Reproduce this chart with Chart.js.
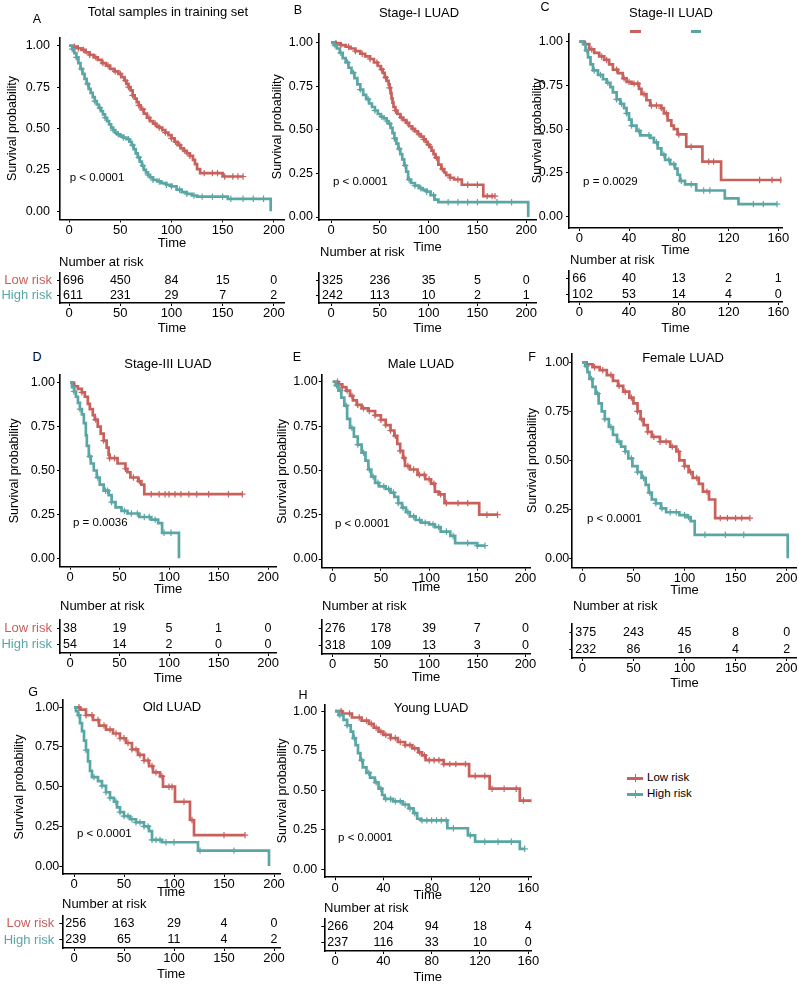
<!DOCTYPE html>
<html>
<head>
<meta charset="utf-8">
<script src="https://cdn.jsdelivr.net/npm/chart.js@4.4.1/dist/chart.umd.min.js"></script>
<style>
body{margin:0;background:#fff;}
#fig{position:relative;width:799px;height:985px;overflow:hidden;background:#fff;font-family:"Liberation Sans",Arial,sans-serif;color:#000;}
#fig canvas{position:absolute;}
.c{position:absolute;white-space:nowrap;transform:translate(-50%,-50%);line-height:1;}
.l{position:absolute;white-space:nowrap;transform:translateY(-50%);line-height:1;}
.bar{position:absolute;}
</style>
</head>
<body>
<div id="fig"></div>
<script>
const RED = '#C8605C';
const TEAL = '#5AA6A5';

// axis breaks
const breaks200 = [0, 50, 100, 150, 200];
const breaks160 = [0, 40, 80, 120, 160];
const survTicks = [0, 0.25, 0.5, 0.75, 1];

// A - total samples in training set
const aLowT = [0,4,8,12,16,20,24,28,32,36,40,44,48,51,54,56,58,60,62,64,66,68,70,73,76,79,82,85,88,91,94,97,100,103,106,109,112,115,118,121,123,125,128,150];
const aLowS = [1,0.995,0.985,0.975,0.96,0.945,0.93,0.915,0.895,0.88,0.86,0.845,0.83,0.81,0.79,0.77,0.75,0.73,0.70,0.68,0.66,0.64,0.615,0.59,0.565,0.545,0.53,0.515,0.505,0.49,0.475,0.46,0.44,0.42,0.40,0.38,0.365,0.35,0.335,0.31,0.285,0.255,0.23,0.21];
const aLowCens = [5,9,14,20,26,33,38,45,50,55,58,62,68,72,78,84,88,94,100,104,108,113,118,132,140,145,152,160,165,170];
const aHighT = [0,3,5,7,9,11,13,15,17,19,21,23,25,27,29,31,33,35,37,39,41,43,45,47,50,53,56,59,61,63,65,67,69,71,73,75,77,79,82,86,90,95,100,105,110,115,120,125,155,197];
const aHighS = [1,0.98,0.955,0.93,0.895,0.86,0.83,0.80,0.77,0.74,0.715,0.69,0.665,0.645,0.625,0.605,0.585,0.565,0.545,0.525,0.505,0.49,0.475,0.465,0.455,0.445,0.435,0.42,0.40,0.375,0.35,0.325,0.30,0.275,0.25,0.235,0.22,0.205,0.19,0.18,0.17,0.16,0.15,0.13,0.115,0.105,0.095,0.088,0.075,0];
const aHighCens = [3,7,12,18,25,30,35,43,48,53,58,62,68,72,77,82,88,95,100,108,115,122,130,140,150,158,170,180,190];
const aRiskLow = [696, 450, 84, 15, 0];
const aRiskHigh = [611, 231, 29, 7, 2];

// B - Stage-I
const bLowT = [0,5,10,15,20,25,30,35,40,44,48,51,53,55,57,59,60,61,62,63,64,66,68,71,74,77,80,83,86,89,92,95,97,99,101,103,105,107,110,113,116,118,122,126,134,156];
const bLowS = [1,0.995,0.985,0.975,0.965,0.95,0.935,0.92,0.905,0.885,0.865,0.845,0.825,0.80,0.78,0.76,0.74,0.71,0.68,0.655,0.63,0.61,0.59,0.57,0.555,0.54,0.52,0.505,0.49,0.475,0.46,0.445,0.43,0.415,0.40,0.38,0.36,0.34,0.30,0.275,0.255,0.24,0.225,0.215,0.185,0.12];
const bLowCens = [5,10,18,25,32,40,47,52,56,60,66,72,78,84,90,95,100,108,114,122,130,140,150,160,165,168];
const bHighT = [0,3,6,9,12,15,18,21,24,27,30,33,36,39,42,45,48,51,54,57,59,61,63,65,67,69,71,73,75,77,79,82,86,90,94,98,102,106,110,202];
const bHighS = [1,0.985,0.965,0.94,0.91,0.885,0.855,0.825,0.795,0.76,0.73,0.70,0.675,0.65,0.63,0.61,0.59,0.575,0.565,0.55,0.535,0.51,0.48,0.45,0.42,0.39,0.36,0.33,0.295,0.26,0.215,0.195,0.18,0.165,0.155,0.145,0.125,0.10,0.085,0];
const bHighCens = [4,10,17,23,30,38,45,52,57,60,65,70,76,80,86,92,98,105,120,130,140,150,170,185];
const bRiskLow = [325, 236, 35, 5, 0];
const bRiskHigh = [242, 113, 10, 2, 1];

// C - Stage-II
const cLowT = [0,4,8,12,16,20,24,27,31,35,38,42,48,50,54,57,66,68,71,74,76,79,86,99,114];
const cLowS = [1,0.985,0.955,0.935,0.915,0.895,0.87,0.84,0.82,0.79,0.77,0.76,0.73,0.70,0.665,0.635,0.62,0.59,0.55,0.52,0.50,0.47,0.40,0.315,0.21];
const cLowCens = [5,10,18,22,30,36,40,44,47,52,58,62,66,70,80,90,104,108,145,155,162];
const cHighT = [0,3,5,7,9,11,15,19,22,25,27,30,33,36,38,40,42,46,49,57,60,63,66,69,73,77,79,81,85,94,117,128];
const cHighS = [1,0.985,0.95,0.91,0.87,0.835,0.81,0.785,0.765,0.74,0.71,0.67,0.645,0.62,0.59,0.555,0.52,0.49,0.465,0.45,0.425,0.39,0.355,0.325,0.30,0.275,0.24,0.205,0.185,0.15,0.105,0.072];
const cHighCens = [6,12,17,23,30,34,38,42,48,56,62,68,72,76,82,90,100,105,140,148,159];
const cRiskLow = [66, 40, 13, 2, 1];
const cRiskHigh = [102, 53, 14, 4, 0];

// D - Stage-III
const dLowT = [0,4,8,12,15,18,20,23,25,28,31,34,37,39,40,48,56,58,61,69,72,75];
const dLowS = [1,0.98,0.965,0.945,0.92,0.88,0.85,0.815,0.79,0.75,0.71,0.67,0.63,0.59,0.57,0.54,0.51,0.49,0.46,0.44,0.42,0.365];
const dLowCens = [5,12,26,34,40,45,56,64,70,82,90,96,100,106,112,120,128,140,160,174];
const dHighT = [0,2,4,6,8,10,12,14,16,17,19,21,24,27,30,34,39,42,46,52,58,70,82,89,93,110];
const dHighS = [1,0.975,0.95,0.92,0.885,0.85,0.82,0.77,0.70,0.64,0.58,0.54,0.50,0.46,0.42,0.385,0.36,0.32,0.29,0.27,0.255,0.235,0.22,0.20,0.145,0];
const dHighCens = [4,10,20,28,36,38,42,55,62,68,75,80,86,95,102];
const dRiskLow = [38, 19, 5, 1, 0];
const dRiskHigh = [54, 14, 2, 0, 0];

// E - Male
const eLowT = [0,6,10,14,18,21,25,30,37,44,50,55,60,64,67,70,73,75,80,88,96,102,106,110,116,152];
const eLowS = [1,0.985,0.97,0.95,0.92,0.895,0.87,0.85,0.835,0.81,0.785,0.755,0.725,0.695,0.65,0.61,0.57,0.525,0.505,0.475,0.45,0.425,0.38,0.365,0.315,0.25];
const eLowCens = [5,10,15,20,26,32,38,44,50,55,60,65,70,74,78,84,90,95,100,105,112,118,130,140,160,171];
const eHighT = [0,3,6,9,12,15,18,22,26,30,34,37,40,44,48,55,60,64,68,72,76,80,86,92,100,106,112,122,127,150];
const eHighS = [1,0.98,0.95,0.91,0.865,0.79,0.74,0.69,0.645,0.60,0.555,0.505,0.465,0.43,0.41,0.395,0.375,0.35,0.315,0.29,0.265,0.24,0.22,0.205,0.195,0.18,0.155,0.13,0.09,0.075];
const eHighCens = [4,8,14,20,26,32,38,42,47,53,58,63,68,73,78,84,90,96,104,110,118,125,140,150,158];
const eRiskLow = [276, 178, 39, 7, 0];
const eRiskHigh = [318, 109, 13, 3, 0];

// F - Female
const fLowT = [0,4,10,17,24,30,35,40,46,50,54,57,60,64,68,76,86,92,95,100,104,108,114,118,124,130];
const fLowS = [1,0.99,0.975,0.96,0.935,0.905,0.88,0.85,0.82,0.79,0.75,0.71,0.68,0.645,0.62,0.595,0.57,0.545,0.50,0.47,0.44,0.41,0.38,0.34,0.30,0.205];
const fLowCens = [5,12,20,28,36,42,48,54,58,64,70,76,82,88,94,100,106,112,122,135,142,150,156,164];
const fHighT = [0,3,5,7,10,13,16,19,22,26,30,34,38,42,45,49,54,58,62,65,68,72,77,82,95,102,106,110,201];
const fHighS = [1,0.98,0.95,0.915,0.875,0.84,0.79,0.75,0.71,0.67,0.63,0.595,0.57,0.545,0.51,0.47,0.44,0.41,0.375,0.335,0.30,0.28,0.255,0.235,0.22,0.21,0.19,0.12,0];
const fHighCens = [4,9,15,22,28,36,42,48,54,60,66,72,78,86,92,100,104,120,140,158];
const fRiskLow = [375, 243, 45, 8, 0];
const fRiskHigh = [232, 86, 16, 4, 2];

// G - Old
const gLowT = [0,6,12,19,25,32,39,46,52,58,64,70,75,79,86,89,101,116,120];
const gLowS = [1,0.985,0.95,0.92,0.885,0.86,0.835,0.805,0.775,0.735,0.70,0.665,0.63,0.59,0.565,0.50,0.405,0.29,0.195];
const gLowCens = [5,12,18,24,30,36,42,46,50,54,58,62,66,70,74,78,82,88,95,98,110,118,150,171];
const gHighT = [0,2,4,6,8,10,12,14,16,18,24,28,32,36,40,43,46,50,56,62,70,75,78,88,124,195];
const gHighS = [1,0.975,0.95,0.90,0.85,0.79,0.73,0.66,0.60,0.56,0.535,0.505,0.465,0.43,0.405,0.37,0.34,0.315,0.295,0.275,0.25,0.22,0.165,0.15,0.097,0];
const gHighCens = [5,12,20,28,32,36,42,46,50,54,58,62,66,70,74,78,82,86,92,100,126,160];
const gRiskLow = [256, 163, 29, 4, 0];
const gRiskHigh = [239, 65, 11, 4, 2];

// H - Young
const hLowT = [0,6,14,22,28,32,36,40,46,52,58,64,69,72,75,90,111,128,153];
const hLowS = [1,0.985,0.96,0.94,0.92,0.895,0.87,0.85,0.83,0.805,0.785,0.765,0.74,0.72,0.69,0.665,0.59,0.51,0.435];
const hLowCens = [5,12,20,26,30,34,38,42,46,50,54,58,62,66,70,74,78,82,86,90,95,100,108,116,124,130,140,150,156,163];
const hHighT = [0,3,7,10,13,15,17,19,21,23,26,29,33,36,39,41,48,56,61,65,68,71,93,110,116,153];
const hHighS = [1,0.975,0.945,0.91,0.87,0.83,0.785,0.735,0.69,0.645,0.61,0.58,0.55,0.51,0.47,0.445,0.43,0.41,0.385,0.355,0.32,0.31,0.26,0.215,0.175,0.13];
const hHighCens = [4,10,16,22,28,34,38,42,46,50,54,58,62,66,72,76,80,84,88,92,98,112,124,135,146,157];
const hRiskLow = [266, 204, 94, 18, 4];
const hRiskHigh = [237, 116, 33, 10, 0];

const FONT = "'Liberation Sans', Arial, sans-serif";
Chart.defaults.font.family = FONT;
Chart.defaults.color = '#000';
Chart.defaults.animation = false;

const fig = document.getElementById('fig');

// layout of each panel (page pixels)
const panels = [
  {letter:'A', lp:[37,19], title:'Total samples in training set', tp:[168,11], pval:'p < 0.0001', pvX:0.5, breaks:breaks200,
   plot:{L:60,T:33.5,R:284,B:219.5,yTitle:13,timeY:243,x:[-9,210],y:[-0.05,1.05],pad:7},
   table:{L:60,T:270,R:284,B:303,timeY:328,labels:true}, nar:[59,261],
   low:[aLowT,aLowS,aLowCens], high:[aHighT,aHighS,aHighCens], risk:[aRiskLow,aRiskHigh]},
  {letter:'B', lp:[298,10], title:'Stage-I LUAD', tp:[419,12], pval:'p < 0.0001', pvX:2, breaks:breaks200,
   plot:{L:319,T:33,R:536,B:220,yTitle:278,timeY:247,x:[-12.3,210],y:[-0.017,1.051],pad:3},
   table:{L:319,T:270,R:536,B:303,timeY:328,labels:false}, nar:[320,251],
   low:[bLowT,bLowS,bLowCens], high:[bHighT,bHighS,bHighCens], risk:[bRiskLow,bRiskHigh]},
  {letter:'C', lp:[545,7], title:'Stage-II LUAD', tp:[671,12], pval:'p = 0.0029', pvX:3, breaks:breaks160,
   plot:{L:569,T:33,R:782,B:228,yTitle:538,timeY:250,x:[-8.3,163],y:[-0.064,1.046],pad:3},
   table:{L:569,T:268,R:782,B:302,timeY:328,labels:false}, nar:[570,259],
   low:[cLowT,cLowS,cLowCens], high:[cHighT,cHighS,cHighCens], risk:[cRiskLow,cRiskHigh]},
  {letter:'D', lp:[37,357], title:'Stage-III LUAD', tp:[168,363], pval:'p = 0.0036', pvX:3, breaks:breaks200,
   plot:{L:60,T:375,R:276,B:566.7,yTitle:15,timeY:589,x:[-10.1,208],y:[-0.048,1.044],pad:2},
   table:{L:60,T:617,R:276,B:653,timeY:678,labels:true}, nar:[60,605],
   low:[dLowT,dLowS,dLowCens], high:[dHighT,dHighS,dHighCens], risk:[dRiskLow,dRiskHigh]},
  {letter:'E', lp:[297,357], title:'Male LUAD', tp:[421,363], pval:'p < 0.0001', pvX:2.4, breaks:breaks200,
   plot:{L:321.7,T:375,R:530.3,B:567.7,yTitle:283,timeY:587,x:[-11.4,205],y:[-0.049,1.038],pad:1},
   table:{L:321.7,T:617,R:530.3,B:654,timeY:677,labels:false}, nar:[322,605],
   low:[eLowT,eLowS,eLowCens], high:[eHighT,eHighS,eHighCens], risk:[eRiskLow,eRiskHigh]},
  {letter:'F', lp:[532,357], title:'Female LUAD', tp:[683,357], pval:'p < 0.0001', pvX:4.6, breaks:breaks200,
   plot:{L:572.3,T:353.3,R:796.7,B:567.7,yTitle:533,timeY:590,x:[-9.8,209.8],y:[-0.048,1.046],pad:0},
   table:{L:572.3,T:621,R:796.7,B:658,timeY:683,labels:false}, nar:[573,605],
   low:[fLowT,fLowS,fLowCens], high:[fHighT,fHighS,fHighCens], risk:[fRiskLow,fRiskHigh]},
  {letter:'G', lp:[33,692], title:'Old LUAD', tp:[172,706], pval:'p < 0.0001', pvX:3, breaks:breaks200,
   plot:{L:62.3,T:700,R:280,B:874,yTitle:20,timeY:892,x:[-11.7,206],y:[-0.05,1.046],pad:0},
   table:{L:62.3,T:913,R:280,B:948,timeY:974,labels:true}, nar:[62,903],
   low:[gLowT,gLowS,gLowCens], high:[gHighT,gHighS,gHighCens], risk:[gRiskLow,gRiskHigh]},
  {letter:'H', lp:[303,695], title:'Young LUAD', tp:[431,707], pval:'p < 0.0001', pvX:2.5, breaks:breaks160,
   plot:{L:324.3,T:703.3,R:531.3,B:877.3,yTitle:283,timeY:895,x:[-8.9,162.5],y:[-0.05,1.042],pad:4},
   table:{L:324.3,T:916,R:531.3,B:951,timeY:977,labels:false}, nar:[324,907],
   low:[hLowT,hLowS,hLowCens], high:[hHighT,hHighS,hHighCens], risk:[hRiskLow,hRiskHigh]}
];

function addText(txt, x, y, cls, size, color) {
  const d = document.createElement('div');
  d.className = cls;
  d.textContent = txt;
  d.style.left = x + 'px';
  d.style.top = y + 'px';
  d.style.fontSize = size + 'px';
  if (color) d.style.color = color;
  fig.appendChild(d);
}

function addBar(x, y, w, h, color) {
  const d = document.createElement('div');
  d.className = 'bar';
  d.style.left = x + 'px'; d.style.top = y + 'px';
  d.style.width = w + 'px'; d.style.height = h + 'px';
  d.style.background = color;
  fig.appendChild(d);
}

function makeCanvas(x, y, w, h) {
  const c = document.createElement('canvas');
  c.width = w; c.height = h;
  c.style.left = x + 'px'; c.style.top = y + 'px';
  c.style.width = w + 'px'; c.style.height = h + 'px';
  fig.appendChild(c);
  return c;
}

// KM step points; the curve runs on to the last censored time
function stepLine(T, S, cens) {
  const pts = T.map((t, i) => ({x: t, y: S[i]}));
  const last = cens[cens.length - 1];
  if (last > T[T.length - 1]) pts.push({x: last, y: S[S.length - 1]});
  return pts;
}
function survAt(T, S, t) {
  let s = S[0];
  for (let i = 0; i < T.length; i++) if (T[i] <= t) s = S[i];
  return s;
}

function axisX(g, breaks, xHeight, title) {
  return {
    type: 'linear', min: g.x[0], max: g.x[1],
    afterBuildTicks: s => { s.ticks = breaks.map(v => ({value: v})); },
    afterFit: s => { s.height = xHeight; },
    grid: {display: true, drawOnChartArea: false, drawTicks: true, tickLength: 3, color: '#000', lineWidth: 1},
    border: {display: true, color: '#000', width: 1.6},
    ticks: {font: {size: 13}, color: '#000', padding: 0, maxRotation: 0, autoSkip: false},
    title: {display: true, text: title, font: {size: 13}, color: '#000', padding: {top: 0, bottom: 0}}
  };
}

function drawPlot(p) {
  const g = p.plot;
  const cl = Math.round(g.yTitle - 8), ct = Math.floor(g.T) - 10;
  const cw = Math.round(g.R + 20 - cl), ch = Math.round(g.timeY + 8 - ct);
  const canvas = makeCanvas(cl, ct, cw, ch);
  const datasets = [];
  [[p.high, TEAL], [p.low, RED]].forEach(([c, color]) => {
    const [T, S, cens] = c;
    datasets.push({type: 'line', data: stepLine(T, S, cens), stepped: true, borderColor: color,
      borderWidth: 2.7, pointRadius: 0, fill: false});
    datasets.push({type: 'scatter', data: cens.map(t => ({x: t, y: survAt(T, S, t)})), pointStyle: 'cross',
      pointRadius: 3.2, borderColor: color, backgroundColor: color, borderWidth: 1.2});
  });
  new Chart(canvas, {
    type: 'line',
    data: {datasets},
    options: {
      responsive: false, maintainAspectRatio: false, devicePixelRatio: 1,
      layout: {padding: {left: 0, top: g.T - ct, right: cl + cw - g.R, bottom: 0}},
      plugins: {legend: {display: false}, tooltip: {enabled: false}},
      scales: {
        x: axisX(g, p.breaks, ct + ch - g.B, 'Time'),
        y: {
          type: 'linear', min: g.y[0], max: g.y[1],
          afterBuildTicks: s => { s.ticks = survTicks.map(v => ({value: v})); },
          afterFit: s => { s.width = g.L - cl; },
          grid: {display: true, drawOnChartArea: false, drawTicks: true, tickLength: 3, color: '#000', lineWidth: 1},
          border: {display: true, color: '#000', width: 1.6},
          ticks: {font: {size: 12.5}, color: '#000', padding: g.pad, callback: v => v.toFixed(2)},
          title: {display: true, text: 'Survival probability', font: {size: 12.5}, color: '#000', padding: {top: 0.5, bottom: 0}}
        }
      }
    },
    plugins: [{
      id: 'pval',
      afterDatasetsDraw(chart) {
        const {ctx, scales: {x, y}} = chart;
        ctx.save();
        ctx.font = '11.5px ' + FONT;
        ctx.fillStyle = '#000';
        ctx.textAlign = 'left';
        ctx.textBaseline = 'middle';
        ctx.fillText(p.pval, x.getPixelForValue(p.pvX), y.getPixelForValue(0.2));
        ctx.restore();
      }
    }]
  });
}

function drawTable(p) {
  const g = Object.assign({}, p.table, {x: p.plot.x});
  const cl = g.labels ? 0 : Math.round(g.L - 12), ct = Math.floor(g.T) - 10;
  const cw = Math.round(g.R + 20 - cl), ch = Math.round(g.timeY + 8 - ct);
  const canvas = makeCanvas(cl, ct, cw, ch);
  const [low, high] = p.risk;
  new Chart(canvas, {
    type: 'line',
    data: {datasets: []},
    options: {
      responsive: false, maintainAspectRatio: false, devicePixelRatio: 1,
      layout: {padding: {left: 0, top: g.T - ct, right: cl + cw - g.R, bottom: 0}},
      plugins: {legend: {display: false}, tooltip: {enabled: false}},
      scales: {
        x: axisX(g, p.breaks, ct + ch - g.B, 'Time'),
        y: {
          type: 'linear', min: 0, max: 2,
          afterBuildTicks: s => { s.ticks = [{value: 0.5}, {value: 1.5}]; },
          afterFit: s => { s.width = g.L - cl; },
          grid: {display: true, drawOnChartArea: false, drawTicks: true, tickLength: 3, color: '#000', lineWidth: 1},
          border: {display: true, color: '#000', width: 1.6},
          ticks: {font: {size: 13}, padding: 5,
            color: c => (c.tick && c.tick.value > 1) ? RED : TEAL,
            callback: v => g.labels ? (v > 1 ? 'Low risk' : 'High risk') : ''}
        }
      }
    },
    plugins: [{
      id: 'riskNumbers',
      afterDatasetsDraw(chart) {
        const {ctx, chartArea, scales: {x, y}} = chart;
        ctx.save();
        ctx.font = '12.5px ' + FONT;
        ctx.fillStyle = '#000';
        ctx.textAlign = 'left';
        ctx.textBaseline = 'middle';
        const put = (txt, t, row) => {
          const w = ctx.measureText(txt).width;
          const left = Math.max(x.getPixelForValue(t) - w / 2, chartArea.left + 3);
          ctx.fillText(txt, left, y.getPixelForValue(row));
        };
        p.breaks.forEach((b, i) => {
          put(String(low[i]), b, 1.5);
          put(String(high[i]), b, 0.5);
        });
        ctx.restore();
      }
    }]
  });
}

panels.forEach(p => {
  drawPlot(p);
  drawTable(p);
  addText(p.letter, p.lp[0], p.lp[1], 'c', 12.5);
  addText(p.title, p.tp[0], p.tp[1], 'c', 13);
  addText('Number at risk', p.nar[0], p.nar[1], 'l', 13);
});

// cropped legend remnants above panel C
addBar(630, 30, 11, 3, RED);
addBar(691, 30, 10, 3, TEAL);

// legend
[['Low risk', RED, 778], ['High risk', TEAL, 794]].forEach(([txt, color, y]) => {
  addBar(627, y - 1.5, 16, 3, color);
  addBar(634.5, y - 4, 1.2, 8, color);
  addText(txt, 647, y, 'l', 11.5);
});
</script>
</body>
</html>
